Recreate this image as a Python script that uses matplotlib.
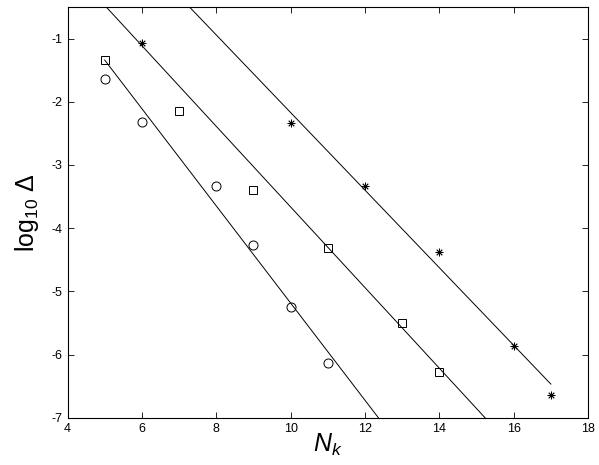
import numpy as np
import matplotlib
matplotlib.use("Agg")
import matplotlib.pyplot as plt

plt.rcParams["font.family"] = ["Liberation Sans", "DejaVu Sans"]
plt.rcParams["mathtext.fontset"] = "custom"
plt.rcParams["mathtext.rm"] = "Liberation Sans"
plt.rcParams["mathtext.it"] = "Liberation Sans:italic"
plt.rcParams["axes.unicode_minus"] = False

# measured points
nk_circ = [5, 6, 8, 9, 10, 11]
d_circ = [-1.64, -2.32, -3.33, -4.27, -5.25, -6.14]

nk_sq = [5, 7, 9, 11, 13, 14]
d_sq = [-1.34, -2.14, -3.39, -4.32, -5.50, -6.27]

nk_star = [6, 10, 12, 14, 16, 17]
d_star = [-1.07, -2.34, -3.34, -4.37, -5.87, -6.64]

# straight lines: (x start, x end, intercept, slope)
line_circ = (5.0, 13.0, 2.505, -0.769)
line_sq = (5.0, 16.0, 2.716, -0.638)
line_star = (5.0, 17.0, 3.97, -0.614)

fig = plt.figure(figsize=(5.99, 4.65), dpi=100)
ax = fig.add_axes([0.1127, 0.1017, 0.869, 0.8833])

for x0, x1, b, m in [line_circ, line_sq, line_star]:
    xs = np.array([x0, x1])
    ax.plot(xs, b + m * xs, color="black", lw=0.7)

ax.plot(nk_circ, d_circ, "o", mfc="none", mec="black", ms=6.5, mew=0.7)
ax.plot(nk_sq, d_sq, "s", mfc="none", mec="black", ms=6, mew=0.7)
ax.plot(nk_star, d_star, ls="none", marker=(8, 2, 0), color="black", ms=5.5, mew=0.6)

ax.set_xlim(4, 18)
ax.set_ylim(-7, -0.5)
ax.set_xticks(range(4, 19, 2))
ax.set_yticks(range(-7, 0))
ax.tick_params(direction="in", top=True, right=True, labelsize=9, length=4, width=0.6)
for s in ax.spines.values():
    s.set_linewidth(0.8)

ax.set_xlabel(r"$N_k$", fontsize=18, labelpad=-2)
ax.set_ylabel(r"$\mathrm{log}_{10}\ \Delta$", fontsize=18, labelpad=8)

fig.savefig("out.png", dpi=100)
plt.close("all")
